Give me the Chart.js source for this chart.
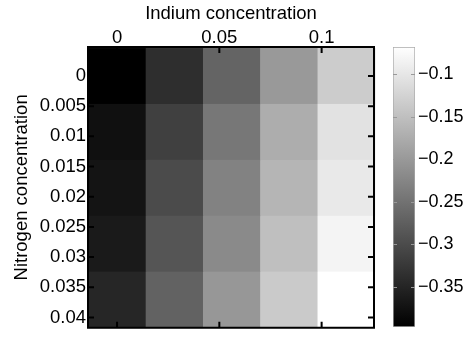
<!DOCTYPE html>
<html>
<head>
<meta charset="utf-8">
<script src="https://cdn.jsdelivr.net/npm/chart.js@4"></script>
<style>
  html, body { margin: 0; padding: 0; background: #fff; }
  #wrap { position: relative; width: 475px; height: 339px; }
  #heat { position: absolute; left: 0; top: 0; width: 380px; height: 339px; }
  #bar { position: absolute; left: 380px; top: 0; width: 95px; height: 339px; }
</style>
</head>
<body>
<div id="wrap">
  <canvas id="heat" width="380" height="339"></canvas>
  <canvas id="bar" width="95" height="339"></canvas>
</div>
<script>
// cell centres
const indium = [0, 0.028, 0.056, 0.084, 0.112];
const nitrogen = [0, 0.00926, 0.01852, 0.02778, 0.03704];

// one row per nitrogen value, one entry per indium value
const row0 = [-0.397, -0.338, -0.268, -0.200, -0.134];
const row1 = [-0.376, -0.314, -0.243, -0.174, -0.105];
const row2 = [-0.371, -0.300, -0.229, -0.163, -0.096];
const row3 = [-0.363, -0.287, -0.219, -0.151, -0.082];
const row4 = [-0.348, -0.271, -0.202, -0.136, -0.068];
const rows = [row0, row1, row2, row3, row4];

const xTicks = [0, 0.05, 0.1];
const xTickLabels = ['0', '0.05', '0.1'];
const yTicks = [0, 0.005, 0.01, 0.015, 0.02, 0.025, 0.03, 0.035, 0.04];
const yTickLabels = ['0', '0.005', '0.01', '0.015', '0.02', '0.025', '0.03', '0.035', '0.04'];
const cbTicks = [-0.1, -0.15, -0.2, -0.25, -0.3, -0.35];
const cbTickLabels = ['\u22120.1', '\u22120.15', '\u22120.2', '\u22120.25', '\u22120.3', '\u22120.35'];

const cbMin = -0.397, cbMax = -0.068;

const family = '"Liberation Sans", Arial, Helvetica, sans-serif';
const tickFont = { family: family, size: 18.5, lineHeight: 1 };

// build points for the chart
const cells = [];
rows.forEach((r, j) => {
  r.forEach((v, i) => cells.push({ x: indium[i], y: nitrogen[j], v: v }));
});
const dx = indium[1] - indium[0];
const dy = nitrogen[1] - nitrogen[0];

function grey(v) {
  let t = (v - cbMin) / (cbMax - cbMin);
  t = Math.max(0, Math.min(1, t));
  const g = Math.round(t * 255);
  return 'rgb(' + g + ',' + g + ',' + g + ')';
}

const heatCells = {
  id: 'heatCells',
  beforeDatasetsDraw(chart) {
    const { ctx, scales: { x, y } } = chart;
    ctx.save();
    chart.data.datasets[0].data.forEach(p => {
      const x0 = x.getPixelForValue(p.x - dx / 2);
      const x1 = x.getPixelForValue(p.x + dx / 2);
      const y0 = y.getPixelForValue(p.y - dy / 2);
      const y1 = y.getPixelForValue(p.y + dy / 2);
      ctx.fillStyle = grey(p.v);
      ctx.fillRect(x0, Math.min(y0, y1), x1 - x0 + 0.5, Math.abs(y1 - y0) + 0.5);
    });
    ctx.restore();
  },
  afterDraw(chart) {
    const { ctx, chartArea: a, scales: { x, y } } = chart;
    ctx.save();
    ctx.strokeStyle = '#000';
    ctx.lineWidth = 2;
    const len = 6;
    ctx.beginPath();
    xTicks.forEach(v => {
      const px = x.getPixelForValue(v);
      ctx.moveTo(px, a.top); ctx.lineTo(px, a.top + len);
      ctx.moveTo(px, a.bottom); ctx.lineTo(px, a.bottom - len);
    });
    yTicks.forEach(v => {
      const py = y.getPixelForValue(v);
      ctx.moveTo(a.left, py); ctx.lineTo(a.left + len, py);
      ctx.moveTo(a.right, py); ctx.lineTo(a.right - len, py);
    });
    ctx.stroke();
    ctx.strokeRect(a.left, a.top, a.right - a.left, a.bottom - a.top);
    ctx.restore();
  }
};

new Chart(document.getElementById('heat'), {
  type: 'scatter',
  data: { datasets: [{ data: cells, pointRadius: 0, pointHoverRadius: 0 }] },
  options: {
    responsive: false,
    animation: false,
    layout: { padding: { left: 0, right: 6, top: 0, bottom: 6 } },
    plugins: { legend: { display: false }, tooltip: { enabled: false } },
    scales: {
      x: {
        type: 'linear',
        position: 'top',
        min: -0.0142,
        max: 0.1256,
        afterBuildTicks: s => { s.ticks = xTicks.map(v => ({ value: v })); },
        afterFit: s => { s.height = 47; },
        grid: { display: false, drawTicks: false },
        border: { display: false },
        ticks: {
          callback: (v, i) => xTickLabels[i],
          font: tickFont, color: '#000', padding: 0,
          maxRotation: 0, autoSkip: false
        },
        title: {
          display: true, text: 'Indium concentration', color: '#000',
          font: { family: family, size: 18.5 }, padding: { top: 3, bottom: 0 }
        }
      },
      y: {
        type: 'linear',
        reverse: true,
        min: -0.0048,
        max: 0.0417,
        afterBuildTicks: s => { s.ticks = yTicks.map(v => ({ value: v })); },
        afterFit: s => { s.width = 88; },
        grid: { display: false, drawTicks: false },
        border: { display: false },
        ticks: {
          callback: (v, i) => yTickLabels[i],
          font: tickFont, color: '#000', padding: 2, autoSkip: false
        },
        title: {
          display: true, text: 'Nitrogen concentration', color: '#000',
          font: { family: family, size: 18.5 }, padding: { top: 10.5, bottom: 0 }
        }
      }
    }
  },
  plugins: [heatCells]
});

// colour bar
const cbMarks = {
  id: 'cbMarks',
  afterDraw(chart) {
    const { ctx, chartArea: a, scales: { y } } = chart;
    ctx.save();
    ctx.strokeStyle = '#999';
    ctx.lineWidth = 1;
    ctx.beginPath();
    cbTicks.forEach(v => {
      const py = Math.round(y.getPixelForValue(v)) + 0.5;
      ctx.moveTo(a.left, py); ctx.lineTo(a.left + 4, py);
      ctx.moveTo(a.right, py); ctx.lineTo(a.right - 4, py);
    });
    ctx.stroke();
    ctx.restore();
  }
};

new Chart(document.getElementById('bar'), {
  type: 'bar',
  data: {
    labels: [''],
    datasets: [{
      data: [[cbMin, cbMax]],
      backgroundColor: c => {
        const chart = c.chart;
        const y = chart.scales.y;
        if (!chart.chartArea || !y) return '#888';
        const g = chart.ctx.createLinearGradient(0, y.getPixelForValue(cbMin), 0, y.getPixelForValue(cbMax));
        g.addColorStop(0, '#000');
        g.addColorStop(1, '#fff');
        return g;
      },
      borderColor: '#aaa',
      borderWidth: 1,
      borderSkipped: false,
      barPercentage: 1,
      categoryPercentage: 1
    }]
  },
  options: {
    responsive: false,
    animation: false,
    layout: { padding: { left: 13, right: 0, top: 47, bottom: 5 } },
    plugins: { legend: { display: false }, tooltip: { enabled: false } },
    scales: {
      x: { display: false },
      y: {
        position: 'right',
        min: cbMin,
        max: cbMax,
        afterBuildTicks: s => { s.ticks = cbTicks.map(v => ({ value: v })); },
        afterFit: s => { s.width = 60; },
        grid: { display: false, drawTicks: false },
        border: { display: false },
        ticks: {
          callback: (v, i) => cbTickLabels[i],
          font: { family: family, size: 18, lineHeight: 1 }, color: '#000', padding: 3
        }
      }
    }
  },
  plugins: [cbMarks]
});
</script>
</body>
</html>
